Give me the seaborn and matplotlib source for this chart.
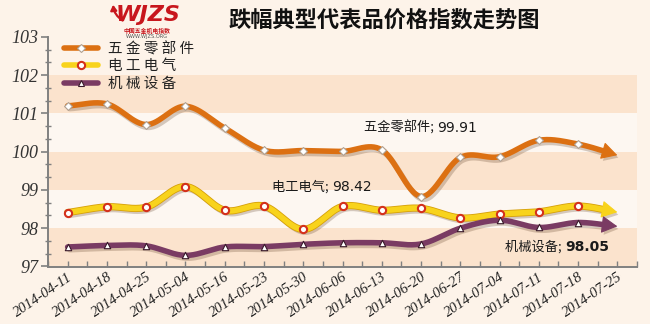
import numpy as np
import pandas as pd
import matplotlib
matplotlib.use("Agg")
import matplotlib.pyplot as plt
import matplotlib.patheffects as pe
from matplotlib.lines import Line2D
from matplotlib.patches import FancyArrowPatch
from matplotlib.ticker import MultipleLocator, FixedLocator
import seaborn as sns

# ---- data -------------------------------------------------------------
dates = ["2014-04-11", "2014-04-18", "2014-04-25", "2014-05-04", "2014-05-16",
         "2014-05-23", "2014-05-30", "2014-06-06", "2014-06-13", "2014-06-20",
         "2014-06-27", "2014-07-04", "2014-07-11", "2014-07-18", "2014-07-25"]
hardware = [101.20, 101.25, 100.71, 101.19, 100.62, 100.04, 100.03, 100.01,
            100.05, 98.83, 99.85, 99.87, 100.30, 100.20, 99.91]
electrical = [98.41, 98.56, 98.55, 99.09, 98.47, 98.58, 97.97, 98.57,
              98.47, 98.52, 98.27, 98.37, 98.43, 98.58, 98.42]
machinery = [97.51, 97.55, 97.54, 97.29, 97.51, 97.52, 97.58, 97.62,
             97.62, 97.59, 98.00, 98.21, 98.02, 98.15, 98.05]
series_names = ["五金零部件", "电工电气", "机械设备"]
title = "跌幅典型代表品价格指数走势图"

# ---- style ------------------------------------------------------------
sns.set_theme(style="white")
plt.rcParams["font.family"] = ["Noto Sans CJK SC", "DejaVu Sans"]

BG = "#fdf3e9"
DARK_BAND = "#fbe3cd"
LIGHT_BAND = "#fdf7f1"

fig = plt.figure(figsize=(6.5, 3.24), dpi=100, facecolor=BG)
ax = fig.add_axes([48 / 650, 1 - 266.5 / 324, 589 / 650, (266.5 - 37) / 324])
ax.set_facecolor(BG)

# horizontal bands
for lo in (101, 99, 97):
    ax.axhspan(lo, lo + 1, color=DARK_BAND, zorder=0, lw=0)
for lo in (100, 98):
    ax.axhspan(lo, lo + 1, color=LIGHT_BAND, zorder=0, lw=0)


def smooth(xs, ys, n=30):
    """Catmull-Rom curve through the given points (used only for drawing)."""
    xs = np.asarray(xs, float)
    ys = np.asarray(ys, float)
    px = np.concatenate([[2 * xs[0] - xs[1]], xs, [2 * xs[-1] - xs[-2]]])
    py = np.concatenate([[2 * ys[0] - ys[1]], ys, [2 * ys[-1] - ys[-2]]])
    ox, oy = [], []
    t = np.linspace(0, 1, n, endpoint=False)
    for i in range(1, len(px) - 2):
        for arr, out in ((px, ox), (py, oy)):
            p0, p1, p2, p3 = arr[i - 1], arr[i], arr[i + 1], arr[i + 2]
            m1 = (p2 - p0) / 2
            m2 = (p3 - p1) / 2
            h00 = 2 * t**3 - 3 * t**2 + 1
            h10 = t**3 - 2 * t**2 + t
            h01 = -2 * t**3 + 3 * t**2
            h11 = t**3 - t**2
            out.extend(h00 * p1 + h10 * m1 + h01 * p2 + h11 * m2)
    ox.append(xs[-1])
    oy.append(ys[-1])
    return np.array(ox), np.array(oy)


x = np.arange(len(dates))
styles = [
    dict(values=hardware, color="#dc7012", marker="D", ms=4.0, mfc="white",
         mec="#b0a090", mew=0.8, edge=None),
    dict(values=electrical, color="#f8d31c", marker="o", ms=5.2, mfc="white",
         mec="#d4301c", mew=1.5, edge="#d6a00a"),
    dict(values=machinery, color="#7a3b63", marker="^", ms=4.6, mfc="white",
         mec="#3a1a2a", mew=0.8, edge=None),
]
LW = 4.0
shadow = pe.SimpleLineShadow(offset=(1.5, -2.0), shadow_color="#5a3a20", alpha=0.25)

for st in styles:
    cx, cy = smooth(x, st["values"])
    keep = cx <= x[-1] - 0.34
    df = pd.DataFrame({"x": cx[keep], "y": cy[keep]})
    effects = [shadow]
    if st["edge"]:
        effects.append(pe.Stroke(linewidth=LW + 1.2, foreground=st["edge"]))
    effects.append(pe.Normal())
    sns.lineplot(data=df, x="x", y="y", sort=False, estimator=None,
                 color=st["color"], lw=LW, ax=ax, zorder=3,
                 path_effects=effects, solid_capstyle="round")
    # arrow head at the final week
    start = (df["x"].iloc[-1], df["y"].iloc[-1])
    arrow = FancyArrowPatch(start, (x[-1], st["values"][-1]),
                            arrowstyle="-|>,head_length=1.0,head_width=0.55",
                            mutation_scale=10, color=st["color"], lw=0.8,
                            shrinkA=0, shrinkB=0, zorder=3,
                            path_effects=[pe.SimplePatchShadow(offset=(1.5, -2.0),
                                                               shadow_rgbFace="#5a3a20",
                                                               alpha=0.25),
                                          pe.Normal()])
    ax.add_patch(arrow)
    # point markers for every week except the arrow tip
    pts = pd.DataFrame({"x": x[:-1], "y": st["values"][:-1]})
    sns.scatterplot(data=pts, x="x", y="y", marker=st["marker"],
                    s=st["ms"] ** 2, color=st["mfc"], edgecolor=st["mec"],
                    linewidth=st["mew"], ax=ax, zorder=4)

# ---- axes -------------------------------------------------------------
ax.set_xlim(-0.5, len(dates) - 0.5)
ax.set_ylim(97, 103)
ax.set_xlabel("")
ax.set_ylabel("")
for side in ("top", "right"):
    ax.spines[side].set_visible(False)
for side in ("left", "bottom"):
    ax.spines[side].set_color("#808080")
    ax.spines[side].set_linewidth(1.4)

ax.yaxis.set_major_locator(MultipleLocator(1))
ax.yaxis.set_minor_locator(MultipleLocator(1 / 3))
ax.tick_params(axis="y", which="major", direction="out", length=5, width=1.2,
               color="#808080", left=True, pad=2)
ax.tick_params(axis="y", which="minor", direction="inout", length=5, width=1.0,
               color="#808080", left=True)
ax.set_yticks(range(97, 104))
ax.set_yticklabels([str(v) for v in range(97, 104)],
                   family="Liberation Serif", style="italic", fontsize=13,
                   color="#333333")

ax.xaxis.set_major_locator(FixedLocator(x))
ax.xaxis.set_minor_locator(FixedLocator(np.arange(-0.5, len(dates), 1.0)))
ax.tick_params(axis="x", which="both", direction="in", length=4, width=1.0,
               color="#808080", bottom=True, pad=3)
ax.set_xticklabels(dates, family="Liberation Serif", style="italic",
                   fontsize=10.5, color="#222222", rotation=34, ha="right",
                   rotation_mode="anchor")

# ---- legend -----------------------------------------------------------
handles = [Line2D([], [], color=st["color"], lw=LW, marker=st["marker"],
                  ms=st["ms"], mfc=st["mfc"], mec=st["mec"], mew=st["mew"],
                  solid_capstyle="round")
           for st in styles]
leg = ax.legend(handles, ["五 金 零 部 件", "电 工 电 气", "机 械 设 备"],
                loc="upper left", bbox_to_anchor=((64 - 48) / 589, 1 - (42 - 37) / 229.5),
                frameon=False, fontsize=10.5, handlelength=2.3, handletextpad=0.7,
                labelspacing=0.22, borderpad=0, borderaxespad=0)
for t in leg.get_texts():
    t.set_color("#222222")

# ---- value labels -----------------------------------------------------
def label(xpix, ypix, name, value, bold_value=False):
    xd = -0.5 + (xpix - 48) / 589 * len(dates)
    yd = 97 + (266.5 - ypix) / 229.5 * 6
    txt = ax.text(xd, yd, f"{name}; ", ha="right", va="center", fontsize=9.5,
                  color="#1a1a1a", zorder=6)
    ax.annotate(f"{value:.2f}", xy=(1, 0.5), xycoords=txt, ha="left", va="center",
                fontsize=10, color="#1a1a1a", family="DejaVu Sans",
                fontweight="bold" if bold_value else "normal", zorder=6)

label(437, 128, series_names[0], hardware[-1])
label(332, 187, series_names[1], electrical[-1])
label(565, 247, series_names[2], machinery[-1], bold_value=True)

# ---- title and logo ---------------------------------------------------
fig.text(384 / 650, 1 - 20 / 324, title, ha="center", va="center",
         fontsize=16, fontweight="bold", color="#111111")
fig.text(148 / 650, 1 - 15 / 324, "WJZS", ha="center", va="center",
         fontsize=16, fontweight="bold", style="italic", color="#c8161d",
         family="DejaVu Sans")
fig.text(147 / 650, 1 - 30.5 / 324, "中国五金机电指数", ha="center", va="center",
         fontsize=4.2, fontweight="bold", color="#c8161d")
fig.text(147 / 650, 1 - 36.5 / 324, "WWW.WJZS.ORG", ha="center", va="center",
         fontsize=3.6, color="#555555", family="DejaVu Sans")
fig.add_artist(FancyArrowPatch((125 / 650, 1 - 22 / 324), (113 / 650, 1 - 2 / 324),
                               transform=fig.transFigure,
                               arrowstyle="-|>,head_length=3,head_width=1.8",
                               connectionstyle="arc3,rad=-0.3",
                               color="#c8161d", lw=1.6))

fig.savefig("out.png", dpi=100, facecolor=BG)
